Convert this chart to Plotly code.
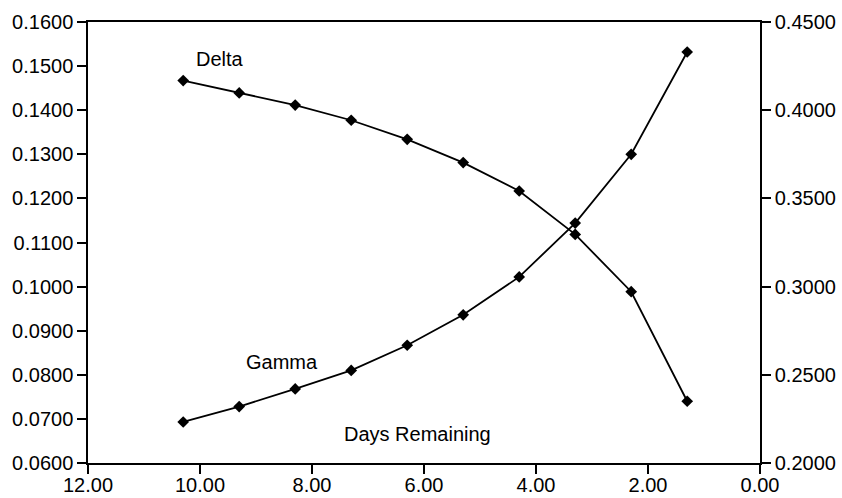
import plotly.graph_objects as go

# Days remaining until expiry
days = [10.3, 9.3, 8.3, 7.3, 6.3, 5.3, 4.3, 3.3, 2.3, 1.3]
# Option gamma (left axis)
gamma = [0.0693, 0.0728, 0.0768, 0.0810, 0.0867, 0.0936, 0.1022, 0.1144, 0.1300, 0.1532]
# Option delta (right axis)
delta = [0.4168, 0.4098, 0.4029, 0.3943, 0.3835, 0.3703, 0.3542, 0.3296, 0.2971, 0.2350]

x_ticks = [12, 10, 8, 6, 4, 2, 0]
y_left_ticks = [0.06, 0.07, 0.08, 0.09, 0.10, 0.11, 0.12, 0.13, 0.14, 0.15, 0.16]
y_right_ticks = [0.20, 0.25, 0.30, 0.35, 0.40, 0.45]

FONT = "Liberation Sans, Arial, Helvetica, sans-serif"
FSIZE = 20
line_style = dict(color="black", width=1.8)
marker_style = dict(symbol="diamond", size=9, color="black")

fig = go.Figure()
fig.add_trace(go.Scatter(x=days, y=gamma, mode="lines+markers", name="Gamma",
                         line=line_style, marker=marker_style, yaxis="y"))
fig.add_trace(go.Scatter(x=days, y=delta, mode="lines+markers", name="Delta",
                         line=line_style, marker=marker_style, yaxis="y2"))

axis_common = dict(showgrid=False, zeroline=False, showline=True, linecolor="black",
                   linewidth=1.5, ticks="outside", tickwidth=1.5,
                   tickcolor="black", automargin=False,
                   tickfont=dict(family=FONT, size=FSIZE, color="black"))

fig.update_layout(
    width=842, height=498,
    margin=dict(l=88, r=82, t=22, b=35),
    paper_bgcolor="white", plot_bgcolor="white",
    showlegend=False,
    xaxis=dict(range=[12, 0], tickvals=x_ticks, tickformat=".2f", mirror=True,
               ticklen=9, ticklabelstandoff=-6, **axis_common),
    yaxis=dict(range=[0.06, 0.16], tickvals=y_left_ticks, tickformat=".4f",
               ticklen=9, **axis_common),
    yaxis2=dict(range=[0.20, 0.45], tickvals=y_right_ticks, tickformat=".4f",
                ticklen=9, overlaying="y", side="right", **axis_common),
    annotations=[
        dict(x=9.65, y=0.1515, xref="x", yref="y", text="Delta", showarrow=False,
             font=dict(family=FONT, size=FSIZE, color="black")),
        dict(x=8.54, y=0.0828, xref="x", yref="y", text="Gamma", showarrow=False,
             font=dict(family=FONT, size=FSIZE, color="black")),
        dict(x=6.11, y=0.0665, xref="x", yref="y", text="Days Remaining", showarrow=False,
             font=dict(family=FONT, size=FSIZE, color="black")),
    ],
)

fig.write_html("out.html")
